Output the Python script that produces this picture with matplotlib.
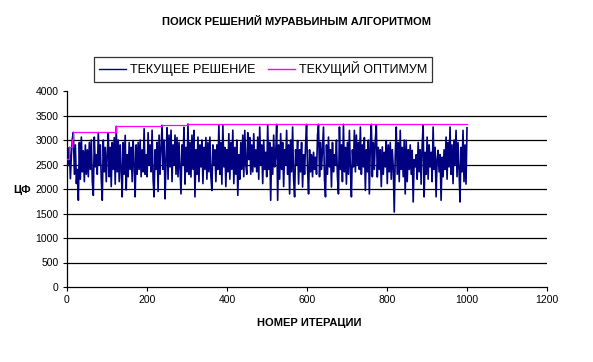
import numpy as np
import matplotlib
matplotlib.use("Agg")
import matplotlib.pyplot as plt

plt.rcParams['font.family'] = ['Liberation Sans', 'DejaVu Sans']

title = "ПОИСК РЕШЕНИЙ МУРАВЬИНЫМ АЛГОРИТМОМ"
xlabel = "НОМЕР ИТЕРАЦИИ"
ylabel = "ЦФ"
series_names = ["ТЕКУЩЕЕ РЕШЕНИЕ", "ТЕКУЩИЙ ОПТИМУМ"]
x_ticks = [0, 200, 400, 600, 800, 1000, 1200]
y_ticks = [0, 500, 1000, 1500, 2000, 2500, 3000, 3500, 4000]
n_iterations = 1000

# current solution (objective value) sampled along the 1000 iterations
current = [
    2620, 2480, 2850, 2210, 2700, 3030, 3157, 2300, 2900, 2110,
    2400, 1770, 2950, 2200, 3060, 2350, 2780, 2150, 2900, 2300,
    2800, 2250, 2950, 2400, 3000, 2150, 1870, 3060, 2450, 2700,
    2300, 3150, 2500, 2900, 2200, 1770, 3000, 2350, 2850, 2150,
    2700, 3150, 2250, 2850, 2050, 2950, 2400, 3050, 2100, 3279,
    2350, 3000, 2150, 2900, 2400, 1840, 2950, 2300, 3095, 1980,
    2700, 2250, 2950, 2400, 2850, 2150, 2990, 2500, 1840, 2900,
    2300, 2950, 2400, 3000, 2250, 2800, 2350, 3230, 2300, 2700,
    2250, 3150, 2500, 2900, 2350, 3200, 2200, 1840, 2800, 2400,
    2950, 1950, 3100, 2300, 2850, 3300, 2400, 3000, 1800, 2600,
    3250, 2200, 3100, 2450, 3200, 2150, 2900, 2500, 3100, 2300,
    3050, 2250, 2950, 2400, 1900, 2900, 2500, 3260, 2100, 2850,
    2350, 3327, 2300, 2950, 2245, 3100, 2400, 3197, 1840, 2800,
    2300, 3060, 2150, 2900, 2450, 3000, 2110, 2850, 2400, 3050,
    2200, 2950, 2350, 3060, 2250, 1970, 2900, 2500, 2800, 2150,
    2900, 2400, 3300, 2300, 2950, 2100, 3300, 2450, 2850, 2050,
    2800, 2350, 3130, 2200, 2950, 2400, 3200, 2110, 2850, 2300,
    3000, 1870, 2700, 2200, 2950, 2400, 3100, 2250, 3197, 2500,
    2300, 3150, 2600, 3050, 2300, 2900, 2350, 3130, 2450, 2800,
    2350, 3060, 2200, 3265, 2500, 2900, 2110, 3000, 2400, 2750,
    2250, 3300, 2400, 2950, 1770, 2850, 2300, 3100, 2450, 2700,
    3320, 1770, 2900, 2200, 3130, 2400, 2950, 2050, 2800, 2500,
    3197, 2300, 2900, 1900, 3000, 2350, 3265, 2200, 1840, 2800,
    2500, 2990, 2100, 2800, 2350, 2950, 2040, 2700, 2300, 2900,
    3320, 2400, 1900, 2800, 2350, 2700, 2250, 2750, 2400, 2650,
    2300, 3100, 3320, 2250, 2950, 2400, 2850, 3265, 2200, 1840,
    2900, 2300, 3060, 2450, 2800, 2040, 2950, 2350, 2700, 2500,
    3000, 2250, 1900, 3265, 2400, 2900, 2150, 3320, 2350, 2850,
    2100, 2950, 2300, 3197, 2400, 1840, 2800, 2450, 3197, 2350,
    3100, 2500, 2950, 2400, 3265, 2300, 2900, 2450, 3050, 1970,
    2800, 2350, 3000, 1900, 2900, 3320, 2250, 2950, 2400, 3000,
    3300, 2245, 2850, 2400, 2800, 2050, 2860, 2300, 2750, 2450,
    2990, 2110, 2900, 2350, 2950, 2200, 2800, 2450, 1530, 2700,
    3265, 2300, 2950, 2150, 3197, 2400, 2850, 2250, 3000, 1900,
    2993, 2150, 2800, 2400, 2900, 2300, 2790, 1735, 2600, 2450,
    2700, 2200, 2950, 2350, 2800, 2100, 2900, 3300, 1840, 2750,
    2300, 3060, 2200, 2900, 2450, 2750, 2150, 3265, 2400, 2850,
    1840, 2600, 2790, 2350, 2700, 1770, 2650, 2250, 2800, 2400,
    3060, 2200, 2950, 2450, 3265, 2300, 2900, 2110, 3000, 2500,
    3197, 2250, 2950, 2400, 1735, 2850, 2350, 3197, 2150, 2900,
    2100, 3250,
]

current = np.array(current, dtype=float)
iterations = np.linspace(1, n_iterations, len(current))
optimum = np.maximum.accumulate(current)

W, H = 593, 362
fig = plt.figure(figsize=(W / 100, H / 100), dpi=100)
fig.patch.set_facecolor("white")
ax = fig.add_axes([67 / W, 1 - 287 / H, 480 / W, 196 / H])

ax.plot(iterations, current, color="#000080", lw=1.2, label=series_names[0], zorder=3)
ax.plot(iterations, optimum, color="#FF00FF", lw=0.9, label=series_names[1],
        drawstyle="steps-post", zorder=4)

ax.set_xlim(0, 1200)
ax.set_ylim(0, 4000)
ax.set_xticks(x_ticks)
ax.set_yticks(y_ticks)
ax.tick_params(axis="both", direction="out", length=3, width=0.8, labelsize=7.5,
               colors="black", pad=3)
for y in y_ticks[1:-1]:
    ax.axhline(y, color="black", lw=0.9, zorder=1)
for side in ["top", "right"]:
    ax.spines[side].set_visible(False)
for side in ["left", "bottom"]:
    ax.spines[side].set_linewidth(0.9)

fig.text(297 / W, 1 - 22 / H, title, ha="center", va="center",
         fontsize=8, fontweight="bold")
fig.text(309 / W, 1 - 323 / H, xlabel, ha="center", va="center",
         fontsize=8, fontweight="bold")
fig.text(22 / W, 1 - 190 / H, ylabel, ha="center", va="center",
         fontsize=8, fontweight="bold")

leg = fig.legend(loc="center", bbox_to_anchor=(263 / W, 1 - 69 / H), ncol=2,
                 frameon=True, fancybox=False, fontsize=9, handlelength=2.2,
                 handletextpad=0.3, columnspacing=1.0, borderpad=0.4,
                 edgecolor="black")
leg.get_frame().set_linewidth(0.9)
for h in leg.get_lines():
    h.set_linewidth(1.0)

fig.savefig("out.png", dpi=100, facecolor="white")
